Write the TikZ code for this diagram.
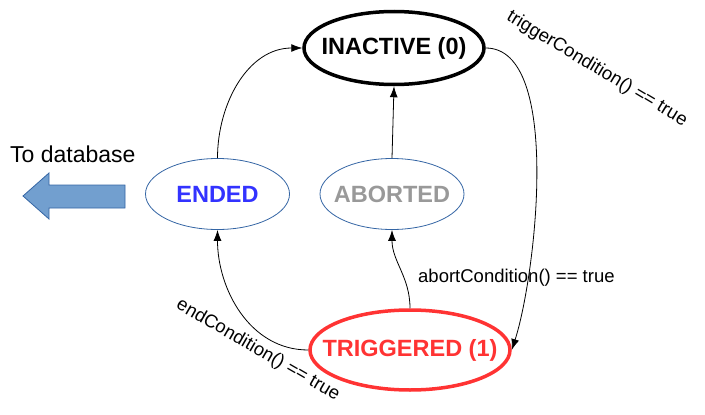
\documentclass[tikz,border=0pt]{standalone}
\usepackage{fontspec}
\setmainfont{Liberation Sans}
\usetikzlibrary{shapes.geometric,arrows.meta}
\definecolor{stateblue}{HTML}{3465A4}
\definecolor{endblue}{HTML}{3333FF}
\definecolor{abortgray}{HTML}{999999}
\definecolor{trigred}{HTML}{FF3333}
\definecolor{dbfill}{HTML}{729FCF}
\newcommand{\stname}[1]{\makebox[0pt]{#1}}

\begin{document}
\begin{tikzpicture}[x=1pt,y=1pt,
	state/.style={ellipse,draw,inner sep=0pt,font=\fontsize{23.5}{28}\selectfont\bfseries},
	cond/.style={inner sep=0pt,font=\fontsize{18.5}{22}\selectfont},
	trans/.style={-{Latex[length=11pt,width=8pt]},line width=0.8pt}]
\useasboundingbox (0,0) rectangle (705,-415);
% states
\node[state,line width=3.5pt,minimum width=180pt,minimum height=73pt] (inactive) at (394,-48) {\stname{INACTIVE (0)}};
\node[state,stateblue,line width=0.8pt,text=endblue,minimum width=144pt,minimum height=71pt] (ended) at (217.5,-194) {\stname{ENDED}};
\node[state,stateblue,line width=0.8pt,text=abortgray,minimum width=144pt,minimum height=71pt] (aborted) at (392,-194) {\stname{ABORTED}};
\node[state,trigred,line width=3.5pt,minimum width=200pt,minimum height=80pt] (triggered) at (410,-350) {\stname{TRIGGERED (1)}};
% transitions
\draw[trans] (ended.north) to[out=90,in=180] (inactive.west);
\draw[trans] (aborted.north) -- (inactive.south);
\draw[trans] (inactive.east) to[out=0,in=72,looseness=0.65] (triggered.east);
\draw[trans] (triggered.north) to[out=90,in=-90] (aborted.south);
\draw[trans] (triggered.west) to[out=180,in=-90] (ended.south);
% conditions
\node[cond,rotate=-31] (trigcond) at (597,-69) {triggerCondition() == true};
\node[cond,anchor=west] (abortcond) at (418,-278) {abortCondition() == true};
\node[cond,rotate=-30] (endcond) at (258,-350) {endCondition() == true};
% database
\node[inner sep=0pt,anchor=base west,font=\fontsize{23}{27}\selectfont] (db) at (10,-162) {To database};
\draw[stateblue,fill=dbfill,line width=0.8pt] (23,-196) -- (49,-173) -- (49,-185) -- (125,-185)
	-- (125,-208) -- (49,-208) -- (49,-219) -- cycle;
\end{tikzpicture}
\end{document}
